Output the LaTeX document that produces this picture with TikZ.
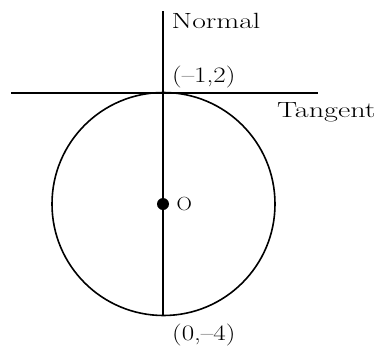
\documentclass[tikz,border=0pt]{standalone}
\usepackage{fontspec}
\newcommand{\wlbl}[2][1.23]{\scalebox{#1}[1]{#2}}
\begin{document}
\begin{tikzpicture}[x=1pt,y=-1pt,
  lbl/.style={inner sep=0pt,anchor=base west,font=\fontsize{22}{26}\selectfont},
  thickline/.style={line width=2.6pt},
  circline/.style={line width=1.6pt}]
\useasboundingbox (0,0) rectangle (378,346);
\coordinate (nt) at (163,11);
\coordinate (nb) at (163,315.5);
\coordinate (tl) at (11,93);
\coordinate (tr) at (318,93);
\coordinate (c) at (163.5,204);
\draw[circline] (c) circle (111.5);
\draw[thickline] (tl) -- (tr);
\draw[thickline] (nt) -- (nb);
\fill (163,204) circle (6);
\node[lbl] (normal) at (171.5,28.5) {\wlbl[1.35]{Normal}};
\node[lbl] (p1) at (172,82) {\wlbl{(--1,2)}};
\node[lbl] (tangent) at (277,117) {\wlbl[1.37]{Tangent}};
\node[lbl,font=\fontsize{19}{22}\selectfont] (o) at (176.5,210.5) {\wlbl[1.12]{O}};
\node[lbl] (p2) at (172,340) {\wlbl{(0,--4)}};
\end{tikzpicture}
\end{document}
